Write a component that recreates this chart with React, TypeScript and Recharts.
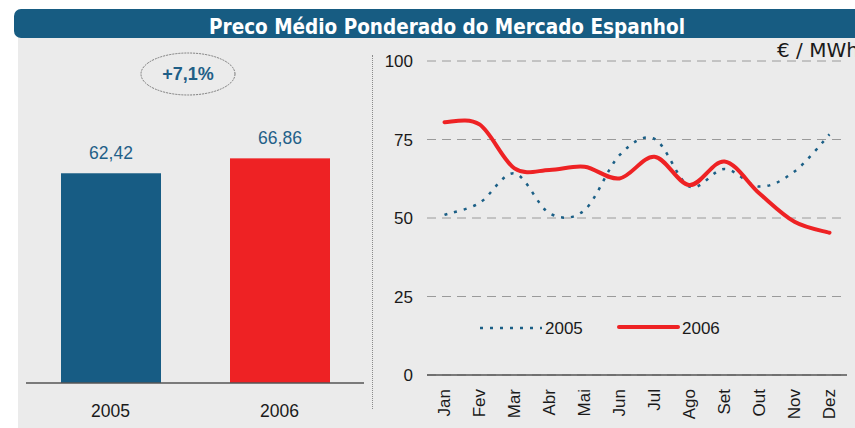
import React from 'react';
import { BarChart, Bar, XAxis, YAxis, LabelList, LineChart, Line, CartesianGrid, Legend } from 'recharts';

const years = ['2005', '2006'];
const yearAverages = [62.42, 66.86];
const yearColors = ['#175c84', '#ee2224'];
const changeLabel = '+7,1%';

const months = ['Jan', 'Fev', 'Mar', 'Abr', 'Mai', 'Jun', 'Jul', 'Ago', 'Set', 'Out', 'Nov', 'Dez'];
const prices2005 = [51.0, 54.8, 64.2, 51.5, 52.5, 70.0, 75.2, 60.0, 65.6, 60.0, 64.8, 76.6];
const prices2006 = [80.5, 79.8, 65.8, 65.3, 66.3, 62.6, 69.5, 60.5, 68.0, 57.8, 48.8, 45.3];
const yTicks = [0, 25, 50, 75, 100];

const title = 'Preco Médio Ponderado do Mercado Espanhol';
const unit = '€ / MWh';

const barData = years.map((y, i) => ({ year: y, value: yearAverages[i], color: yearColors[i] }));
const lineData = months.map((m, i) => ({ month: m, s2005: prices2005[i], s2006: prices2006[i] }));

const FONT = '"Liberation Sans", Arial, sans-serif';
const BLUE = '#175c84';
const RED = '#ee2224';

// Excel-like smoothing (Catmull-Rom through the points)
function smoothCurve(context: any) {
  let pts: number[][] = [];
  return {
    areaStart() {},
    areaEnd() {},
    lineStart() { pts = []; },
    point(x: number, y: number) { pts.push([+x, +y]); },
    lineEnd() {
      if (!pts.length) return;
      context.moveTo(pts[0][0], pts[0][1]);
      for (let i = 0; i < pts.length - 1; i++) {
        const p0 = pts[i - 1] || pts[i];
        const p1 = pts[i];
        const p2 = pts[i + 1];
        const p3 = pts[i + 2] || p2;
        context.bezierCurveTo(
          p1[0] + (p2[0] - p0[0]) / 6, p1[1] + (p2[1] - p0[1]) / 6,
          p2[0] - (p3[0] - p1[0]) / 6, p2[1] - (p3[1] - p1[1]) / 6,
          p2[0], p2[1]
        );
      }
    },
  };
}

const MonthTick = (props: any) => {
  const { x, y, payload } = props;
  return (
    <text x={x} y={y} dy="0.35em" transform={`rotate(-90, ${x}, ${y})`} textAnchor="end"
      fontSize={17} fontFamily={FONT} fill="#1a1a1a">
      {payload.value}
    </text>
  );
};

const LegendContent = (props: any) => {
  const payload = props.payload || [];
  const e2005 = payload.find((p: any) => p.dataKey === 's2005');
  const e2006 = payload.find((p: any) => p.dataKey === 's2006');
  return (
    <svg width={483} height={24} style={{ display: 'block' }}>
      <line x1={108} y1={12} x2={170} y2={12} stroke={e2005 ? e2005.color : BLUE} strokeWidth={2.5} strokeDasharray="3 7" />
      <text x={173} y={12} dy="0.36em" fontSize={17} fontFamily={FONT} fill="#1a1a1a">{e2005 ? e2005.value : '2005'}</text>
      <line x1={247} y1={11} x2={306} y2={11} stroke={e2006 ? e2006.color : RED} strokeWidth={4} strokeLinecap="round" />
      <text x={310} y={12} dy="0.36em" fontSize={17} fontFamily={FONT} fill="#1a1a1a">{e2006 ? e2006.value : '2006'}</text>
    </svg>
  );
};

export default function App() {
  return (
    <div style={{ position: 'absolute', left: 0, top: 0, width: 855, height: 428, background: '#ffffff', overflow: 'hidden' }}>
      <div style={{ position: 'absolute', left: 18, top: 38, width: 837, height: 390, background: '#ebebeb' }} />
      <div style={{
        position: 'absolute', left: 14, top: 9, width: 860, height: 29, background: '#175c82',
        borderRadius: 7, overflow: 'hidden',
      }}>
        <svg width={860} height={29} style={{ position: 'absolute', left: 0, top: 0 }}>
          <text x={433} y={25} textAnchor="middle" fill="#ffffff" fontFamily='"DejaVu Sans Condensed", "DejaVu Sans", sans-serif'
            fontWeight="bold" fontSize={20.5}>{title}</text>
        </svg>
      </div>

      {/* separator */}
      <div style={{ position: 'absolute', left: 372, top: 55, width: 0, height: 354, borderLeft: '1.5px dotted #8a8a8a' }} />

      {/* Unit */}
      <div style={{ position: 'absolute', left: 777, top: 38, fontFamily: '"DejaVu Sans", sans-serif', fontSize: 20, color: '#1a1a1a', whiteSpace: 'nowrap', lineHeight: '24px' }}>{unit}</div>

      {/* Left bar chart */}
      <div style={{ position: 'absolute', left: 18, top: 38 }}>
        <BarChart width={354} height={390} data={barData} margin={{ top: 9, right: 8, bottom: 0, left: 8 }} barCategoryGap={0}>
          <XAxis dataKey="year" height={45} tickLine={false} axisLine={{ stroke: '#555555', strokeWidth: 1.5 }}
            tickMargin={16} tick={{ fontSize: 17.5, fontFamily: FONT, fill: '#1a1a1a' }} />
          <YAxis hide domain={[0, 100]} />
          <Bar dataKey="value" barSize={100} isAnimationActive={false}
            shape={(p: any) => <rect x={p.x} y={p.y} width={p.width} height={p.height} fill={p.payload.color} />}>
            <LabelList dataKey="value" position="top" offset={14}
              formatter={(v: any) => Number(v).toFixed(2).replace('.', ',')}
              style={{ fontSize: 17.5, fontFamily: FONT, fill: '#1f6088' }} />
          </Bar>
        </BarChart>
        <svg width={354} height={100} style={{ position: 'absolute', left: 0, top: 0 }}>
          <ellipse cx={170} cy={36} rx={47} ry={21} fill="none" stroke="#7a7a7a" strokeWidth={1} strokeDasharray="2 1" />
          <text x={170} y={36} dy="0.36em" textAnchor="middle" fontSize={18} fontWeight="bold" fontFamily={FONT} fill="#1f5f87">{changeLabel}</text>
        </svg>
      </div>

      {/* Right line chart */}
      <div style={{ position: 'absolute', left: 372, top: 38 }}>
        <LineChart width={483} height={390} data={lineData} margin={{ top: 23, right: 8, bottom: 0, left: 0 }}>
          <CartesianGrid vertical={false} stroke="#9a9a9a" strokeDasharray="9 6" />
          <XAxis dataKey="month" height={53} interval={0} tickLine={false} tickMargin={8}
            padding={{ left: 17.5, right: 17.5 }}
            axisLine={{ stroke: '#555555', strokeWidth: 1.5 }} tick={<MonthTick />} />
          <YAxis width={55} domain={[0, 100]} ticks={yTicks} tickLine={false} axisLine={false} tickMargin={8}
            tick={{ fontSize: 17, fontFamily: FONT, fill: '#1a1a1a' }} />
          <Legend layout="horizontal" verticalAlign="middle" align="center" content={<LegendContent />}
            wrapperStyle={{ position: 'absolute', left: 0, top: 278, width: 483 }} />
          <Line dataKey="s2005" name="2005" type={smoothCurve as any} stroke="#1b5f86" strokeWidth={2.5}
            strokeDasharray="3 7" dot={false} activeDot={false} isAnimationActive={false} />
          <Line dataKey="s2006" name="2006" type={smoothCurve as any} stroke={RED} strokeWidth={4}
            strokeLinecap="round" dot={false} activeDot={false} isAnimationActive={false} />
        </LineChart>
      </div>
    </div>
  );
}
